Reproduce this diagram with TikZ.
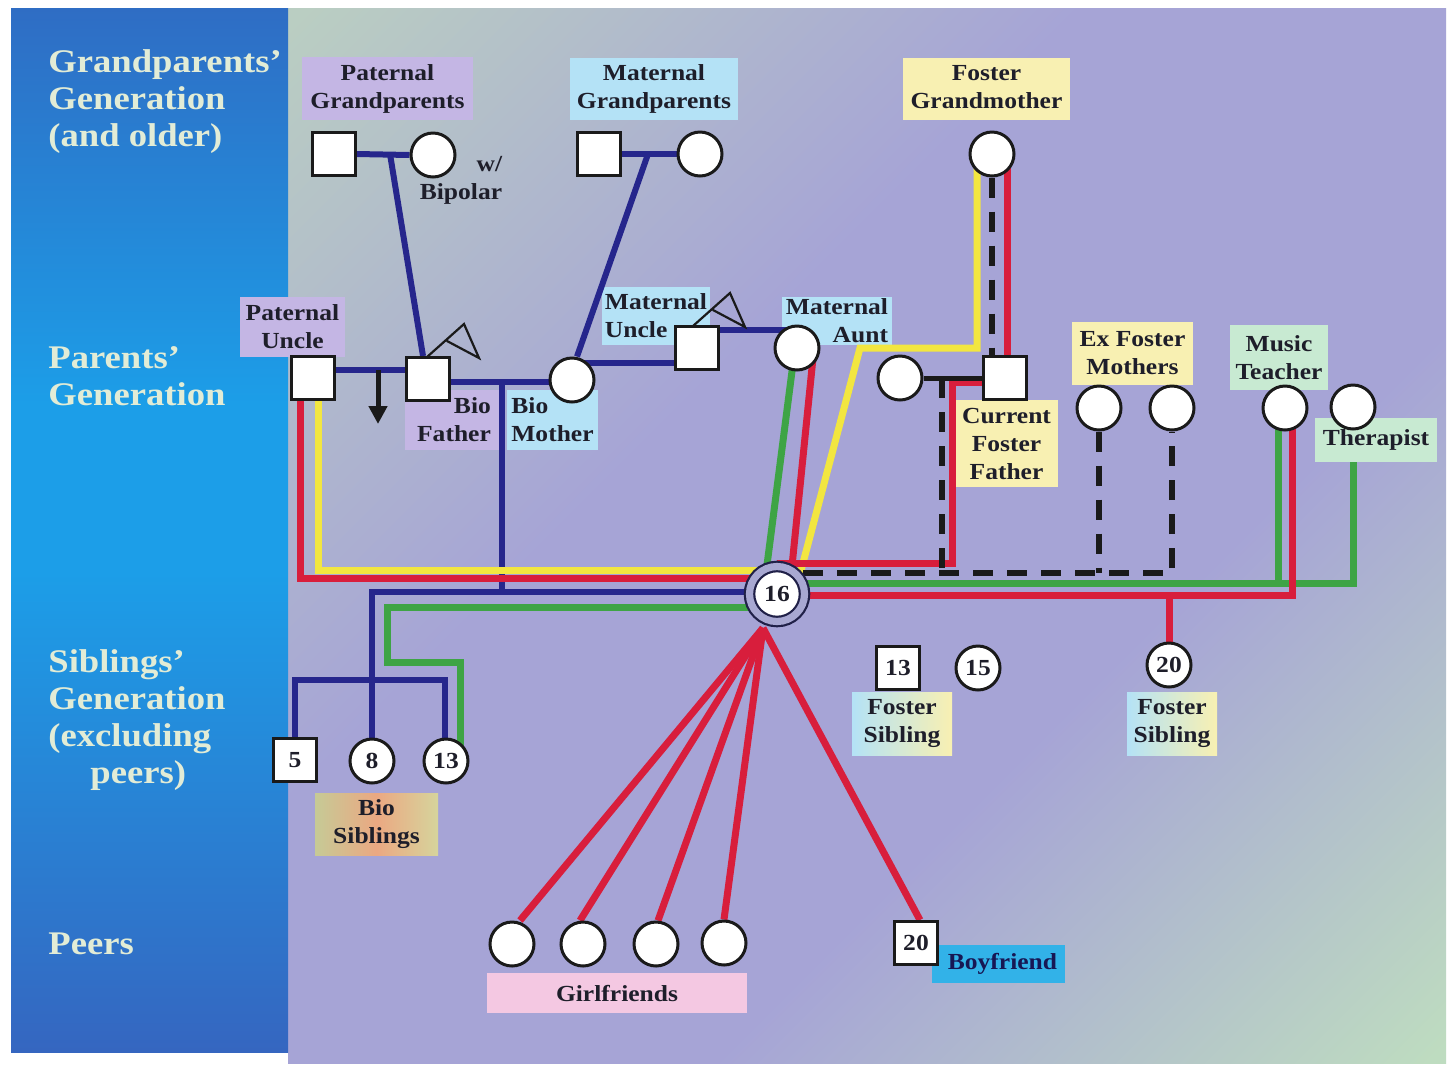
\documentclass[tikz,border=0pt]{standalone}
\usepackage{fontspec}
\setmainfont{Liberation Serif}[Ligatures=TeX,FakeStretch=1.11]
\usetikzlibrary{calc,arrows.meta}
\definecolor{navyc}{HTML}{26268C}
\definecolor{redc}{HTML}{D81E3C}
\definecolor{yelc}{HTML}{F2E640}
\definecolor{grnc}{HTML}{3EA445}
\definecolor{blkc}{HTML}{1A1A1A}
\definecolor{lavc}{HTML}{C4B6E4}
\definecolor{lbluc}{HTML}{B4E2F6}
\definecolor{lyelc}{HTML}{F8F0B2}
\definecolor{lgrnc}{HTML}{C8EAD2}
\definecolor{pinkc}{HTML}{F4C8E2}
\definecolor{boyc}{HTML}{32B2E8}
\definecolor{txtc}{HTML}{1E1E2A}
\definecolor{paneltxt}{HTML}{E2ECD6}
\definecolor{egoB}{HTML}{202048}
\definecolor{egoR}{HTML}{A8A8D2}
\definecolor{bgA}{HTML}{BACEC2}
\definecolor{bgP}{HTML}{A6A4D6}
\definecolor{bgB}{HTML}{BEDCC0}
\definecolor{lbT}{HTML}{2F6DC4}
\definecolor{lbM}{HTML}{1C9EE8}
\definecolor{lbB}{HTML}{3566C0}
\definecolor{bsL}{HTML}{C6CA96}
\definecolor{bsM}{HTML}{EBA882}
\definecolor{bsR}{HTML}{D6D49C}
\pgfdeclarehorizontalshading{mainbg}{100bp}{color(0bp)=(bgA); color(15bp)=(bgA); color(40bp)=(bgP); color(62bp)=(bgP); color(85bp)=(bgB); color(100bp)=(bgB)}
\pgfdeclareverticalshading{leftbg}{100bp}{color(0bp)=(lbB); color(25bp)=(lbB); color(48bp)=(lbM); color(56bp)=(lbM); color(75bp)=(lbT); color(100bp)=(lbT)}
\pgfdeclarelayer{bgl}
\pgfdeclarelayer{labels}
\pgfdeclarelayer{lines}
\pgfsetlayers{bgl,labels,lines,main}
\newcommand{\lblfont}{\fontsize{11.5}{14}\selectfont\bfseries}
\newcommand{\panelfont}{\fontsize{16.5}{18.5}\selectfont\bfseries}
\tikzset{
  sq/.style={draw=blkc, line width=1.5pt, fill=white, minimum size=21.5pt, inner sep=0pt, font=\lblfont, text=txtc},
  ci/.style={circle, draw=blkc, line width=1.5pt, fill=white, minimum size=22pt, inner sep=0pt, font=\lblfont, text=txtc},
  ego/.style={circle, draw=egoB, double=egoR, line width=1.1pt, double distance=3.6pt, fill=white, minimum size=27.5pt, inner sep=0pt, font=\lblfont, text=txtc},
  lab/.style={inner sep=0pt, align=center, font=\lblfont, text=txtc},
  ptxt/.style={anchor=west, align=left, font=\panelfont, text=paneltxt, inner sep=0pt},
  bl/.style={draw=navyc, line width=3pt},
  rd/.style={draw=redc, line width=3.5pt},
  yl/.style={draw=yelc, line width=3.5pt},
  gn/.style={draw=grnc, line width=3.5pt},
  dsh/.style={draw=blkc, line width=3pt, dash pattern=on 10pt off 7pt},
  mar/.style={draw=blkc, line width=2.5pt},
  pen/.style={draw=blkc, line width=1.1pt, line join=miter},
  pennant/.pic={\draw[pen] (0,0) -- (37,-33) -- (52,1) -- (20,-16);}
}
\begin{document}
\begin{tikzpicture}[x=0.5pt,y=-0.5pt]
\useasboundingbox (0,0) rectangle (1451,1067);
\begin{pgfonlayer}{bgl}
  \fill[white] (0,0) rectangle (1451,1067);
  \shade[shading=mainbg, shading angle=-45] (288,8) rectangle (1446,1063);
  \shade[shading=leftbg] (11,8) rectangle (288,1052);
\end{pgfonlayer}

% generation titles
\node[ptxt] (T1) at (48,102) {Grandparents'\\Generation\\(and older)};
\node[ptxt] (T2) at (48,376) {Parents'\\Generation};
\node[ptxt] (T3) at (48,720) {Siblings'\\Generation\\(excluding\\\hspace*{21pt}peers)};
\node[ptxt] (T4) at (48,944) {Peers};

% label boxes
\begin{pgfonlayer}{labels}
\node[lab, fill=lavc, minimum width=85.5pt, minimum height=31.5pt] (LPGP) at (387.5,88.5) {Paternal\\Grandparents};
\node[lab, fill=lbluc, minimum width=84pt, minimum height=31pt] (LMGP) at (654,89) {Maternal\\Grandparents};
\node[lab, fill=lyelc, minimum width=83.5pt, minimum height=31pt, text depth=2pt] (LFGM) at (986.5,89) {Foster\\Grandmother};
\node[lab, fill=lavc, minimum width=52.5pt, minimum height=30pt] (LPU) at (292.5,327) {Paternal\\Uncle};
\node[lab, fill=lavc, minimum width=49pt, minimum height=30pt, align=right] (LBF) at (454,420) {Bio\\Father};
\node[lab, fill=lbluc, minimum width=45.5pt, minimum height=30pt, align=left] (LBM) at (552.5,420) {Bio\\Mother};
\node[lab, fill=lbluc, minimum width=54pt, minimum height=29pt, align=left] (LMU) at (656,316) {Maternal\\Uncle};
\node[lab, fill=lbluc, minimum width=55pt, minimum height=24pt, align=right] (LMA) at (837,321) {Maternal\\Aunt};
\node[lab, fill=lyelc, minimum width=51.5pt, minimum height=43.5pt] (LCFF) at (1006.5,443.5) {Current\\Foster\\Father};
\node[lab, fill=lyelc, minimum width=60.5pt, minimum height=31.5pt] (LEFM) at (1132.5,353.5) {Ex Foster\\Mothers};
\node[lab, fill=lgrnc, minimum width=49pt, minimum height=32.5pt] (LMT) at (1279,357.5) {Music\\Teacher};
\node[lab, fill=lgrnc, minimum width=61pt, minimum height=22pt] (LTH) at (1376,440) {Therapist};
\node[lab, left color=bsL, right color=bsR, middle color=bsM, minimum width=61.5pt, minimum height=31pt] (LBS) at (376.5,824) {Bio\\Siblings};
\node[lab, left color=lbluc, right color=lyelc, minimum width=50pt, minimum height=31.5pt] (LFS1) at (902,723.5) {Foster\\Sibling};
\node[lab, left color=lbluc, right color=lyelc, minimum width=45pt, minimum height=31.5pt] (LFS2) at (1172,723.5) {Foster\\Sibling};
\node[lab, fill=pinkc, minimum width=130pt, minimum height=20pt] (LGF) at (617,993) {Girlfriends};
\node[lab, fill=boyc, minimum width=66.5pt, minimum height=19pt, text=navyc!60!black] (LBOY) at (998.5,964) {\hspace*{4pt}Boyfriend};
\end{pgfonlayer}

\node[lab] (WB) at (461,180) [align=right] {w/\\Bipolar};

% persons
\node[sq] (PGF) at (334,154) {};
\node[ci] (PGM) at (433,155) {};
\node[sq] (MGF) at (599,154) {};
\node[ci] (MGM) at (700,154) {};
\node[ci] (FGM) at (992,154) {};
\node[sq] (PU) at (313,378) {};
\node[sq] (BF) at (428,379) {};
\node[ci] (BM) at (572,380) {};
\node[sq] (MU) at (697,348) {};
\node[ci] (MA) at (797,348) {};
\node[ci] (FFP) at (900,378) {};
\node[sq] (CFF) at (1005,378) {};
\node[ci] (EFM1) at (1099,408) {};
\node[ci] (EFM2) at (1172,408) {};
\node[ci] (MT) at (1285,408) {};
\node[ci] (TH) at (1353,407) {};
\node[ego] (EGO) at (777,594) {16};
\node[sq] (S5) at (295,760) {5};
\node[ci] (S8) at (372,761) {8};
\node[ci] (S13) at (446,761) {13};
\node[sq] (FS13) at (898,668) {13};
\node[ci] (FS15) at (978,668) {15};
\node[ci] (FS20) at (1169,665) {20};
\node[ci] (GF1) at (512,944) {};
\node[ci] (GF2) at (583,944) {};
\node[ci] (GF3) at (656,944) {};
\node[ci] (GF4) at (724,943) {};
\node[sq] (BOY) at (916,943) {20};

\pic at ($(BF.center)+(-1,-22)$) {pennant};
\pic at ($(MU.center)+(-4,-22)$) {pennant};

\begin{pgfonlayer}{lines}
% biological family (blue)
\draw[bl] (PGF.east) -- (PGM.west);
\coordinate (pj) at (390,154);
\draw[bl] (pj) -- ($(BF.north)+(-5,0)$);
\draw[bl] (MGF.east) -- (MGM.west);
\coordinate (mgj) at (648,154);
\draw[bl] (mgj) -- ($(BM.north)+(5,0)$);
\draw[bl] ($(PU.east)+(0,-8)$) -- ($(BF.west)+(0,-9)$);
\draw[bl] ($(BF.east)+(0,3)$) -- ($(BM.center)+(0,2)$);
\draw[bl] ($(BM.center)+(0,-17)$) -- ($(MU.center)+(0,15)$);
\draw[bl] ($(MU.center)+(0,-18)$) -- ($(MA.center)+(0,-18)$);
\coordinate (bpj) at (502,382);
\coordinate (blueY) at ($(EGO.center)+(0,-2)$);
\draw[bl] (bpj) -- (bpj |- blueY);
\coordinate (sj) at (372,680);
\draw[bl] (blueY) -| (sj);
\draw[bl] (S5.center) |- (sj) -| ($(S13.center)+(-1,0)$);
\draw[bl] (sj) -- (S8.center);
% arrow
\coordinate (as) at (378,370);
\coordinate (ae) at (378,424);
\draw[draw=blkc, line width=2.5pt, -{Triangle[width=9pt,length=9pt]}] (as) -- (ae);
% uncle
\draw[yl] ($(PU.center)+(5,0)$) |- ($(EGO.center)+(0,-24)$);
\draw[rd] ($(PU.center)+(-13,0)$) |- ($(EGO.center)+(0,-16)$);
% bio sibling 13
\coordinate (gk) at (387,662);
\draw[gn] ($(EGO.center)+(0,13)$) -| (gk) -| ($(S13.center)+(14,0)$);
% aunt
\draw[gn] ($(MA.center)+(-2,0)$) -- ($(EGO.center)+(-10,-29)$);
\draw[rd] ($(MA.center)+(17,0)$) -- ($(EGO.center)+(15,-28)$);
% foster grandmother
\coordinate (yk) at (860,348);
\draw[yl] ($(FGM.center)+(-15,0)$) |- (yk) -- ($(EGO.center)+(22,-16)$);
\draw[rd] ($(FGM.center)+(15,0)$) -- ($(CFF.center)+(2,0)$);
\draw[dsh] (FGM.south) -- ($(CFF.north)+(-13,0)$);
% current foster father
\draw[rd] ($(EGO.center)+(0,-31)$) -| ($(CFF.center)+(-53,4)$) -- ($(CFF.center)+(0,4)$);
\draw[mar] (FFP.east) -- (CFF.west);
% dashed (ex foster mothers, foster mother)
\coordinate (dl) at ($(EGO.center)+(26,-21)$);
\draw[dsh] (dl) -| (EFM2.south);
\draw[dsh] (EFM1.south) -- (EFM1.south |- dl);
\coordinate (mj) at (942,378);
\draw[dsh] (mj) -- (mj |- dl);
% green right
\coordinate (gl) at ($(EGO.center)+(0,-11)$);
\draw[gn] (gl) -| (TH.center |- LTH.south);
\coordinate (mtg) at ($(MT.center)+(-7,0)$);
\draw[gn] (mtg) -- (mtg |- gl);
% red right
\coordinate (rl) at ($(EGO.center)+(0,1)$);
\draw[rd] (rl) -| ($(MT.center)+(7,0)$);
\draw[rd] ($(FS13.center)+(-3,0)$) -- ($(FS13.center)+(-3,0)$ |- rl);
\draw[rd] (FS20.center) -- (FS20.center |- rl);
% peers
\coordinate (fan) at ($(EGO.center)+(-14,34)$);
\draw[rd] (fan) -- ($(GF1.north)+(8,0)$);
\draw[rd] (fan) -- ($(GF2.north)+(-3,0)$);
\draw[rd] (fan) -- ($(GF3.north)+(2,0)$);
\draw[rd] (fan) -- (GF4.north);
\draw[rd] (fan) -- ($(BOY.north)+(4,0)$);
\end{pgfonlayer}
\end{tikzpicture}
\end{document}
